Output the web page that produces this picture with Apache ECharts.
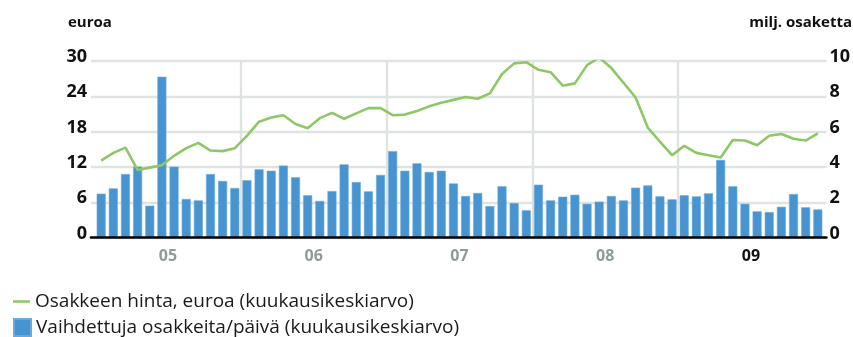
<!DOCTYPE html>
<html>
<head>
<meta charset="utf-8">
<script src="https://cdn.jsdelivr.net/npm/echarts@6/dist/echarts.min.js"></script>
<style>
  html, body { margin: 0; padding: 0; background: #ffffff; }
  #chart { width: 853px; height: 337px; }
</style>
</head>
<body>
<div id="chart"></div>
<script>
// Monthly categories, Jan 2005 – Dec 2009
const months = [
  '2005-01','2005-02','2005-03','2005-04','2005-05','2005-06','2005-07','2005-08','2005-09','2005-10','2005-11','2005-12',
  '2006-01','2006-02','2006-03','2006-04','2006-05','2006-06','2006-07','2006-08','2006-09','2006-10','2006-11','2006-12',
  '2007-01','2007-02','2007-03','2007-04','2007-05','2007-06','2007-07','2007-08','2007-09','2007-10','2007-11','2007-12',
  '2008-01','2008-02','2008-03','2008-04','2008-05','2008-06','2008-07','2008-08','2008-09','2008-10','2008-11','2008-12',
  '2009-01','2009-02','2009-03','2009-04','2009-05','2009-06','2009-07','2009-08','2009-09','2009-10','2009-11','2009-12'
];

// Year tick labels shown under the axis
const yearLabels = ['05', '06', '07', '08', '09'];

// Share price, euros (monthly average)
const sharePrice = [
  13.1, 14.4, 15.3, 11.5, 11.9, 12.3, 13.9, 15.2, 16.1, 14.8, 14.7, 15.2,
  17.3, 19.7, 20.4, 20.8, 19.3, 18.6, 20.3, 21.2, 20.2, 21.1, 22.0, 22.0,
  20.8, 20.9, 21.5, 22.3, 22.9, 23.4, 23.9, 23.6, 24.5, 27.8, 29.6, 29.8,
  28.5, 28.1, 25.8, 26.2, 29.3, 30.6, 28.8, 26.3, 23.8, 18.7, 16.3, 14.0,
  15.6, 14.4, 14.0, 13.6, 16.6, 16.5, 15.7, 17.3, 17.6, 16.8, 16.5, 17.7
];

// Shares traded per day, millions (monthly average)
const sharesTraded = [
  2.49, 2.79, 3.60, 4.02, 1.81, 9.11, 4.02, 2.19, 2.11, 3.60, 3.21, 2.81,
  3.25, 3.87, 3.79, 4.08, 3.42, 2.40, 2.08, 2.64, 4.15, 3.15, 2.62, 3.55,
  4.90, 3.79, 4.21, 3.72, 3.79, 3.07, 2.36, 2.53, 1.79, 2.91, 1.96, 1.55,
  3.00, 2.11, 2.32, 2.43, 1.92, 2.04, 2.36, 2.11, 2.83, 2.96, 2.34, 2.17,
  2.40, 2.34, 2.51, 4.40, 2.91, 1.92, 1.49, 1.45, 1.75, 2.47, 1.72, 1.60
];

const priceAxis = { min: 0, max: 30, interval: 6 };
const volumeAxis = { min: 0, max: 10, interval: 2 };

const seriesNames = [
  'Osakkeen hinta, euroa (kuukausikeskiarvo)',
  'Vaihdettuja osakkeita/päivä (kuukausikeskiarvo)'
];

const FONT = "'Open Sans', 'Noto Sans', sans-serif";
const GRID_COLOR = '#dfe4e1';
const BAR_COLOR = '#4894d1';
const LINE_COLOR = '#8dc867';

// Month boundaries (0..60) used for year gridlines and year labels
const boundaryTicks = [];
for (let k = 0; k <= months.length; k++) {
  boundaryTicks.push(k % 12 === 6 ? yearLabels[(k - 6) / 12] : '');
}

// value labels sit just above their gridline
const tickLabelStyle = {
  fontFamily: FONT,
  fontSize: 18,
  fontWeight: 'bold',
  color: '#111111',
  verticalAlign: 'bottom',
  lineHeight: 8
};

const legendText = { fontFamily: FONT, fontSize: 19, color: '#1a1a1a' };
const titleText = { fontFamily: FONT, fontSize: 15, fontWeight: 'bold', color: '#111111' };

const chart = echarts.init(document.getElementById('chart'), null, { renderer: 'canvas' });

chart.setOption({
  animation: false,
  backgroundColor: '#ffffff',
  title: [
    { text: 'euroa', left: 68, top: 15, padding: 0, textStyle: titleText },
    { text: 'milj. osaketta', right: 1, top: 15, padding: 0, textStyle: titleText }
  ],
  legend: [
    { data: [{ name: seriesNames[0], icon: 'rect' }], left: 13, top: 292, padding: 0,
      itemWidth: 17, itemHeight: 2.6, textStyle: legendText },
    { data: [{ name: seriesNames[1], icon: 'rect' }], left: 13, top: 318, padding: 0,
      itemWidth: 17, itemHeight: 17, textStyle: legendText }
  ],
  grid: [
    // frame: horizontal gridlines, value labels, baseline
    { left: 91, right: 25, top: 61, height: 176.7, containLabel: false },
    // plotting area for the monthly bars and the price line
    { left: 95.1, right: 29.1, top: 61, height: 176.7, containLabel: false }
  ],
  xAxis: [
    { gridIndex: 0, type: 'value', min: 0, max: 1, z: 5, position: 'bottom',
      axisLine: { show: true, onZero: false, lineStyle: { color: '#000000', width: 2.6 } },
      axisTick: { show: false }, axisLabel: { show: false }, splitLine: { show: false } },
    { gridIndex: 1, type: 'category', data: months, boundaryGap: true, show: false, position: 'bottom' },
    { gridIndex: 1, type: 'category', data: boundaryTicks, boundaryGap: false, position: 'bottom',
      axisLine: { show: false }, axisTick: { show: false },
      axisLabel: {
        interval: (i) => i % 12 === 6,
        margin: 11,
        formatter: (v) => (v === yearLabels[yearLabels.length - 1] ? '{cur|' + v + '}' : '{past|' + v + '}'),
        rich: {
          past: { fontFamily: FONT, fontSize: 16, fontWeight: 'bold', color: '#8e9c97' },
          cur: { fontFamily: FONT, fontSize: 16, fontWeight: 'bold', color: '#111111' }
        }
      },
      splitLine: { show: true, interval: (i) => i % 12 === 0 && i > 0 && i < months.length,
        lineStyle: { color: GRID_COLOR, width: 2.4 } } }
  ],
  yAxis: [
    { gridIndex: 0, type: 'value', position: 'left', ...priceAxis,
      axisLine: { show: false }, axisTick: { show: false },
      axisLabel: { ...tickLabelStyle, margin: 4 },
      splitLine: { show: true, lineStyle: { color: GRID_COLOR, width: 2.4 } } },
    { gridIndex: 0, type: 'value', position: 'right', ...volumeAxis,
      axisLine: { show: false }, axisTick: { show: false },
      axisLabel: { ...tickLabelStyle, margin: 3 },
      splitLine: { show: false } },
    { gridIndex: 1, type: 'value', ...priceAxis, show: false, splitLine: { show: false } },
    { gridIndex: 1, type: 'value', ...volumeAxis, show: false, splitLine: { show: false } }
  ],
  series: [
    {
      name: seriesNames[1],
      type: 'bar',
      xAxisIndex: 1,
      yAxisIndex: 3,
      data: sharesTraded,
      barWidth: 9,
      itemStyle: { color: BAR_COLOR, borderColor: '#6aa9dc', borderWidth: 0.6 },
      z: 2
    },
    {
      name: seriesNames[0],
      type: 'line',
      xAxisIndex: 1,
      yAxisIndex: 2,
      data: sharePrice,
      symbol: 'none',
      lineStyle: { color: LINE_COLOR, width: 2.6 },
      itemStyle: { color: LINE_COLOR },
      z: 3
    }
  ]
});
</script>
</body>
</html>
